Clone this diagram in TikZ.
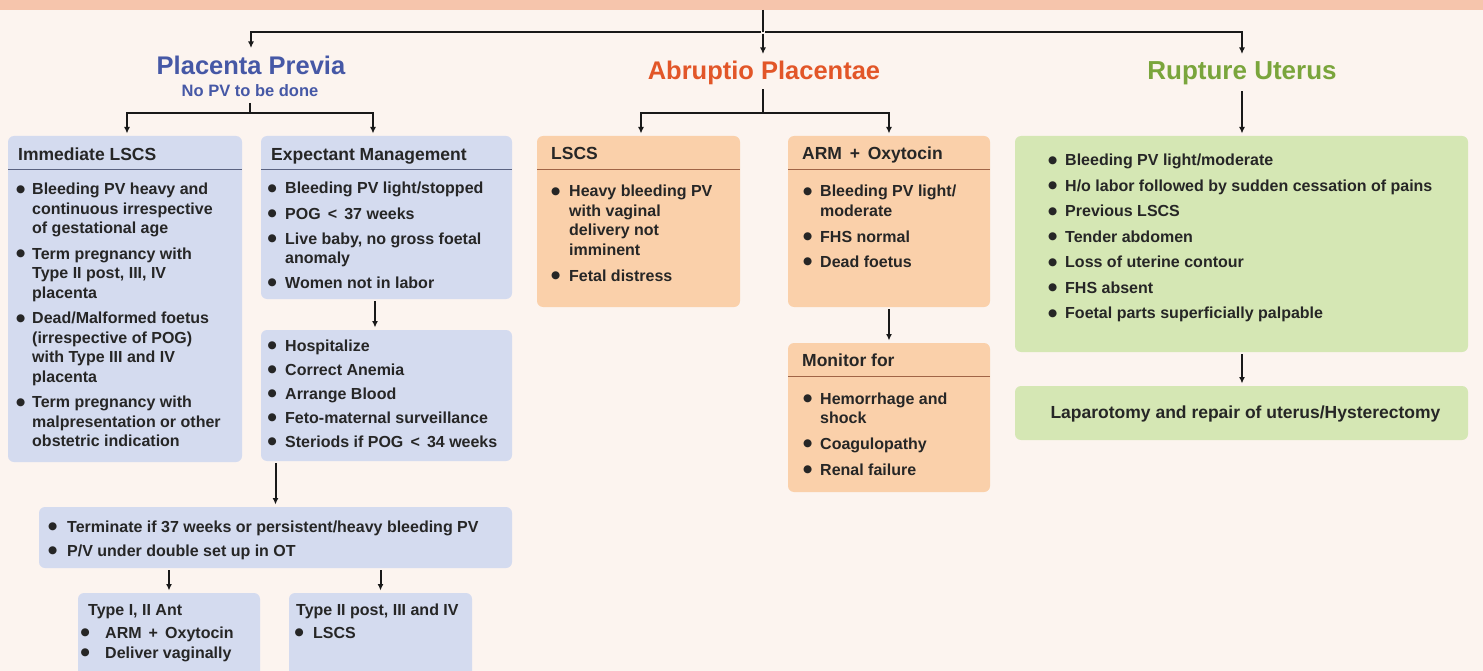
\documentclass[tikz,border=0pt]{standalone}
\usepackage{fontspec}
\setmainfont{Liberation Sans}
\newfontfamily\symfont{DejaVu Sans}
\usetikzlibrary{arrows.meta,calc}

\definecolor{bgc}{RGB}{252,244,239}
\definecolor{bandc}{RGB}{246,197,172}
\definecolor{bluef}{RGB}{212,219,239}
\definecolor{bluediv}{RGB}{90,98,128}
\definecolor{orangef}{RGB}{250,208,170}
\definecolor{orangediv}{RGB}{160,100,70}
\definecolor{greenf}{RGB}{213,231,180}
\definecolor{ppblue}{RGB}{70,88,166}
\definecolor{aporange}{RGB}{226,86,40}
\definecolor{rugreen}{RGB}{122,165,60}
\definecolor{txt}{RGB}{38,38,38}

\newcommand\bodyfont{\bfseries\fontsize{16}{19.5}\selectfont}
\newcommand\headfont{\bfseries\fontsize{17.5}{20}\selectfont}
% a round bullet, centred on the x-height of the body text
\newcommand\bul{\raisebox{2.6pt}{\symfont\fontsize{10.5}{10.5}\selectfont ●}}
% bullet list: #1 = width of the bullet column, #2 = rows
\newcommand\blist[2]{\begin{tabular}[t]{@{}p{#1}@{}l@{}}#2\end{tabular}}

\tikzset{
  boxbase/.style={rounded corners=6pt, draw=none, inner sep=0pt, outer sep=0pt, anchor=north west},
  bluebox/.style={boxbase, fill=bluef},
  orangebox/.style={boxbase, fill=orangef},
  greenbox/.style={boxbase, fill=greenf},
  bdiv/.style={draw=bluediv, line width=0.9pt},
  odiv/.style={draw=orangediv, line width=0.9pt},
  head/.style={anchor=base west, inner sep=0pt, text=txt, font=\headfont},
  items/.style={anchor=base west, inner sep=0pt, text=txt, font=\bodyfont},
  conn/.style={draw=black!90, line width=2pt},
  arr/.style={conn, -{Latex[length=6.5pt,width=6pt]}, shorten <=2pt, shorten >=2.5pt},
  titletext/.style={inner sep=0pt, text depth=5pt, font=\bfseries}
}

\begin{document}
\begin{tikzpicture}[x=1pt, y=-1pt]
\useasboundingbox (0,0) rectangle (1483,671);
\fill[bgc] (0,0) rectangle (1483,671);
\node[anchor=north west, fill=bandc, minimum width=1483pt, minimum height=10pt, inner sep=0pt, outer sep=0pt] (band) at (0,0) {};

% ---- titles ----
\node[titletext, text=ppblue, font=\bfseries\fontsize{25.5}{27}\selectfont, text height=18pt, outer sep=6pt] (pp) at (251,68) {Placenta Previa};
\node[titletext, text=ppblue, font=\bfseries\fontsize{16.5}{18}\selectfont, text height=12pt, text depth=4pt, outer sep=2pt] (ppsub) at (250,93) {No PV to be done};
\node[titletext, text=aporange, font=\bfseries\fontsize{25.5}{27}\selectfont, text height=18pt, outer sep=5pt] (ap) at (764,73) {Abruptio Placentae};
\node[titletext, text=rugreen, font=\bfseries\fontsize{26}{27}\selectfont, text height=18pt, outer sep=5pt] (ru) at (1242,73) {Rupture Uterus};

% ---- placenta previa column ----
\node[bluebox, minimum width=234pt, minimum height=326pt] (imm) at (8,136) {};
\node[head] (immh) at (18,161) {Immediate LSCS};
\draw[bdiv] ($(imm.north west)+(0,33)$) -- ($(imm.north east)+(0,33)$);
\node[items] (immt) at (16,195) {\blist{16pt}{%
  \bul & Bleeding PV heavy and\\
   & continuous irrespective\\
   & of gestational age\\[6pt]
  \bul & Term pregnancy with\\
   & Type II post, III, IV\\
   & placenta\\[6pt]
  \bul & Dead/Malformed foetus\\
   & (irrespective of POG)\\
   & with Type III and IV\\
   & placenta\\[6pt]
  \bul & Term pregnancy with\\
   & malpresentation or other\\
   & obstetric indication}};

\node[bluebox, minimum width=251pt, minimum height=163pt] (exp) at (261,136) {};
\node[head] (exph) at (271,161) {Expectant Management};
\draw[bdiv] ($(exp.north west)+(0,33)$) -- ($(exp.north east)+(0,33)$);
\node[items] (expt) at (267.5,194) {\blist{17.5pt}{%
  \bul & Bleeding PV light/stopped\\[5.5pt]
  \bul & POG \,<\, 37 weeks\\[6pt]
  \bul & Live baby, no gross foetal\\
   & anomaly\\[5pt]
  \bul & Women not in labor}};

\node[bluebox, minimum width=251pt, minimum height=131pt] (hosp) at (261,330) {};
\node[items] (hospt) at (267.5,351) {\blist{17.5pt}{%
  \bul & Hospitalize\\[4.5pt]
  \bul & Correct Anemia\\[4.5pt]
  \bul & Arrange Blood\\[4.5pt]
  \bul & Feto-maternal surveillance\\[4.5pt]
  \bul & Steriods if POG \,<\, 34 weeks}};

\node[bluebox, minimum width=473pt, minimum height=61pt] (term) at (39,507) {};
\node[items] (termt) at (48,532) {\blist{19pt}{%
  \bul & Terminate if 37 weeks or persistent/heavy bleeding PV\\[4.5pt]
  \bul & P/V under double set up in OT}};

\node[bluebox, minimum width=182pt, minimum height=90pt] (typea) at (78,593) {};
\node[items] (typeat) at (88,615.5) {Type I, II Ant};
\node[items] (typeab) at (80.5,638.5) {\blist{24.5pt}{%
  \bul & ARM \,+\, Oxytocin\\[0.5pt]
  \bul & Deliver vaginally}};

\node[bluebox, minimum width=183pt, minimum height=90pt] (typeb) at (289,593) {};
\node[items] (typebt) at (296,615.5) {Type II post, III and IV};
\node[items] (typebb) at (294.5,638.5) {\blist{18.5pt}{%
  \bul & LSCS}};

% ---- abruptio placentae column ----
\node[orangebox, minimum width=203pt, minimum height=171pt] (lscs) at (537,136) {};
\node[head] (lscsh) at (551,160) {LSCS};
\draw[odiv] ($(lscs.north west)+(0,33)$) -- ($(lscs.north east)+(0,33)$);
\node[items] (lscst) at (551,197) {\blist{18pt}{%
  \bul & Heavy bleeding PV\\
   & with vaginal\\
   & delivery not\\
   & imminent\\[6.5pt]
  \bul & Fetal distress}};

\node[orangebox, minimum width=202pt, minimum height=171pt] (arm) at (788,136) {};
\node[head] (armh) at (802,160) {ARM \,+\, Oxytocin};
\draw[odiv] ($(arm.north west)+(0,33)$) -- ($(arm.north east)+(0,33)$);
\node[items] (armt) at (803,197) {\blist{17pt}{%
  \bul & Bleeding PV light/\\
   & moderate\\[6.5pt]
  \bul & FHS normal\\[5.5pt]
  \bul & Dead foetus}};

\node[orangebox, minimum width=202pt, minimum height=149pt] (mon) at (788,343) {};
\node[head] (monh) at (802,366) {Monitor for};
\draw[odiv] ($(mon.north west)+(0,33)$) -- ($(mon.north east)+(0,33)$);
\node[items] (mont) at (803,404) {\blist{17pt}{%
  \bul & Hemorrhage and\\
   & shock\\[6.5pt]
  \bul & Coagulopathy\\[6.5pt]
  \bul & Renal failure}};

% ---- rupture uterus column ----
\node[greenbox, minimum width=453pt, minimum height=216pt] (rup) at (1015,136) {};
\node[items] (rupt) at (1048,166) {\blist{17pt}{%
  \bul & Bleeding PV light/moderate\\[6pt]
  \bul & H/o labor followed by sudden cessation of pains\\[6pt]
  \bul & Previous LSCS\\[6pt]
  \bul & Tender abdomen\\[6pt]
  \bul & Loss of uterine contour\\[6pt]
  \bul & FHS absent\\[6pt]
  \bul & Foetal parts superficially palpable}};

\node[greenbox, minimum width=453pt, minimum height=54pt] (lap) at (1015,386) {};
\node[head, anchor=center, text depth=4pt, text height=13pt] (lapt) at ($(lap.center)+(4,1)$) {Laparotomy and repair of uterus/Hysterectomy};

% ---- connectors ----
\coordinate (bus) at (763,32);
\coordinate (ppbus) at (250,113);
\coordinate (apbus) at (763,113);
\draw[conn] (band.south -| bus) -- (bus);
\draw[arr] (bus) -| (pp.north);
\draw[arr] (bus) -- (bus |- ap.north);
\draw[arr] (bus) -| (ru.north);

\draw[conn] (ppsub.south) -- (ppbus);
\draw[arr, shorten <=0pt] (ppbus) -| ([xshift=2pt]imm.north);
\draw[arr, shorten <=0pt] (ppbus) -| ([xshift=-13.5pt]exp.north);

\draw[conn] (ap.south -| apbus) -- (apbus);
\draw[arr, shorten <=0pt] (apbus) -| ([xshift=2.5pt]lscs.north);
\draw[arr, shorten <=0pt] (apbus) -| (arm.north);

\draw[arr] (ru.south) -- (rup.north -| ru.south);

\draw[arr] ([xshift=-11.5pt]exp.south) -- ([xshift=-11.5pt]hosp.north);
\draw[arr] (hosp.south -| term.north) -- (term.north);
\draw[arr] (term.south -| typea.north) -- (typea.north);
\draw[arr] (term.south -| typeb.north) -- (typeb.north);
\draw[arr] (arm.south) -- (mon.north);
\draw[arr] (rup.south -| ru.south) -- (lap.north -| ru.south);
\end{tikzpicture}
\end{document}
